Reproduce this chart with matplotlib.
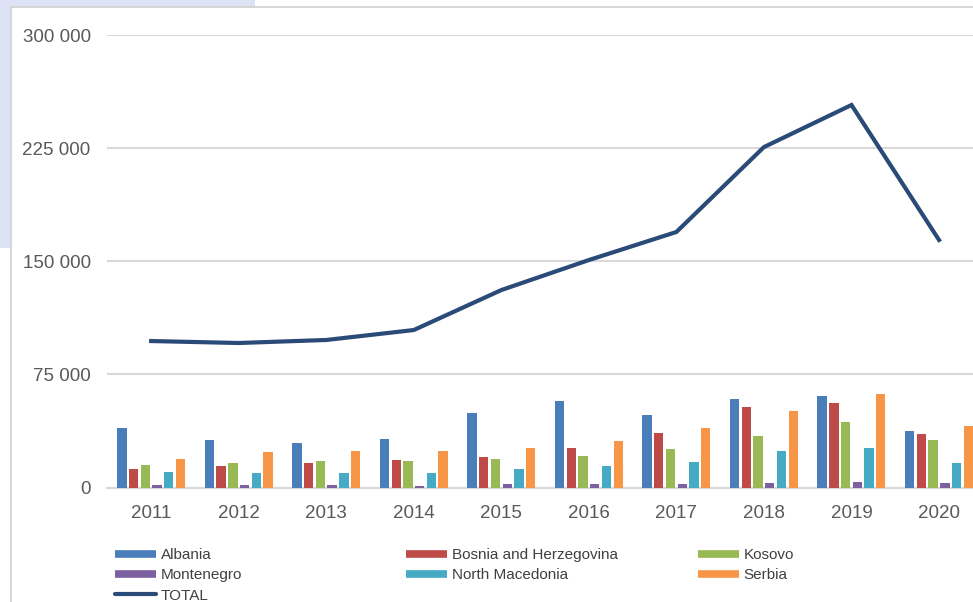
import matplotlib
matplotlib.use("Agg")
import matplotlib.pyplot as plt
import numpy as np
from matplotlib.lines import Line2D
from matplotlib.patches import Rectangle

years = ["2011", "2012", "2013", "2014", "2015", "2016", "2017", "2018", "2019", "2020"]
albania = [39300, 31300, 29700, 32200, 49200, 57100, 48300, 58700, 60500, 37600]
bosnia = [12100, 14300, 16000, 18400, 20000, 26400, 36100, 53200, 56200, 35500]
kosovo = [14900, 16000, 17600, 17600, 19100, 20700, 25500, 34300, 43200, 31300]
montenegro = [1500, 1500, 1500, 1200, 2100, 2100, 2000, 2800, 3800, 2800]
north_macedonia = [10500, 9400, 9400, 9400, 12100, 14300, 16700, 24000, 26400, 16000]
serbia = [19100, 23300, 24200, 24200, 26400, 30600, 39300, 50500, 62000, 41000]
total = [97100, 95800, 97800, 104400, 130900, 150800, 169400, 225700, 253600, 164100]

series_names = ["Albania", "Bosnia and Herzegovina", "Kosovo", "Montenegro", "North Macedonia", "Serbia"]
series_values = [albania, bosnia, kosovo, montenegro, north_macedonia, serbia]
colors = ["#4A7EBB", "#BE4B48", "#98B954", "#7D60A0", "#46AAC5", "#F79646"]
total_color = "#2A4A78"

yticks = [0, 75000, 150000, 225000, 300000]
ytick_labels = ["0", "75 000", "150 000", "225 000", "300 000"]

W, H = 973, 602
fig = plt.figure(figsize=(W / 100, H / 100), dpi=100)
fig.patch.set_facecolor("white")

# background decoration (lavender panel behind chart, top-left)
lav = "#DDE2F4"
fig.patches.append(Rectangle((0, 1 - 7 / H), 255 / W, 7 / H, transform=fig.transFigure,
                             facecolor=lav, edgecolor="none", zorder=0))
fig.patches.append(Rectangle((0, 1 - 248 / H), 10 / W, 248 / H, transform=fig.transFigure,
                             facecolor=lav, edgecolor="none", zorder=0))
# chart border
border_c = "#D0D0D0"
fig.add_artist(Line2D([11 / W, 11 / W], [0, 1 - 7 / H], transform=fig.transFigure,
                      color=border_c, lw=1.2))
fig.add_artist(Line2D([11 / W, 1], [1 - 7 / H, 1 - 7 / H], transform=fig.transFigure,
                      color=border_c, lw=1.2))

ax_left = 107.4 / W
ax_width = 875.4 / W
ax_bottom = (H - 487.5) / H
ax_height = (487.5 - 35) / H
ax = fig.add_axes([ax_left, ax_bottom, ax_width, ax_height])
ax.set_facecolor("none")

x = np.arange(len(years))
bar_w = 0.107
step = 0.134
for i, (name, vals, c) in enumerate(zip(series_names, series_values, colors)):
    ax.bar(x + (i - 2.5) * step, vals, width=bar_w, color=c, label=name, zorder=3)

ax.plot(x, total, color=total_color, lw=3.0, zorder=4, label="TOTAL",
        solid_joinstyle="miter")

ax.set_xlim(-0.5, len(years) - 0.5)
ax.set_ylim(0, 300000)
ax.set_yticks(yticks)
ax.set_yticklabels(ytick_labels)
ax.set_xticks(x)
ax.set_xticklabels(years)
ax.grid(axis="y", color="#D9D9D9", lw=1.5, zorder=0)
for s in ["left", "right", "top"]:
    ax.spines[s].set_visible(False)
ax.spines["bottom"].set_color("#D9D9D9")
ax.spines["bottom"].set_linewidth(1.5)
ax.tick_params(axis="both", length=0, labelcolor="#595959", labelsize=13.5)
ax.tick_params(axis="y", pad=12)
ax.tick_params(axis="x", pad=12.5)
for lab in ax.get_xticklabels() + ax.get_yticklabels():
    lab.set_fontfamily(["Liberation Sans", "DejaVu Sans"])

# legend: three columns at fixed x positions
leg_font = {"family": ["Liberation Sans", "DejaVu Sans"], "size": 11}
cols = [
    [("Albania", colors[0], 5.5), ("Montenegro", colors[3], 5.5), ("TOTAL", total_color, 3.0)],
    [("Bosnia and Herzegovina", colors[1], 5.5), ("North Macedonia", colors[4], 5.5)],
    [("Kosovo", colors[2], 5.5), ("Serbia", colors[5], 5.5)],
]
col_x = [115, 406, 698]
for cx, items in zip(col_x, cols):
    handles = [Line2D([], [], color=c, lw=lw, solid_capstyle="butt" if lw > 4 else "round")
               for (_, c, lw) in items]
    labels = [n for (n, _, _) in items]
    leg = fig.legend(handles, labels, loc="upper left",
                     bbox_to_anchor=(cx / W, 1 - 548 / H), frameon=False,
                     prop=leg_font, handlelength=2.7, handletextpad=0.3,
                     labelspacing=0.42, borderpad=0, borderaxespad=0)
    for t in leg.get_texts():
        t.set_color("#404040")

fig.savefig("out.png", dpi=100)
